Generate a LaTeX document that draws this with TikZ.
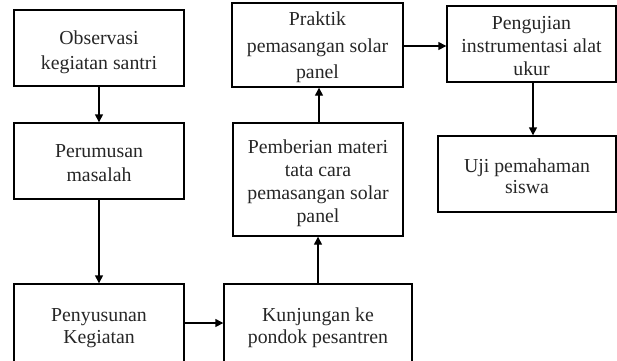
\documentclass[tikz,border=0pt]{standalone}
\usepackage{fontspec}
\setmainfont{Liberation Serif}
\usetikzlibrary{arrows.meta,calc}
\newcommand\tstrut{\rule{0pt}{22pt}}
\newcommand\bstrut{\rule[-5pt]{0pt}{5pt}}
\begin{document}
\begin{tikzpicture}[x=1pt,y=-1pt,
  box/.style={draw,line width=1.4pt,align=center,inner sep=0pt,
    font=\fontsize{19.8}{#1}\selectfont,text=black!85},
  box/.default=23,
  arr/.style={line width=1.4pt,-{Triangle[length=8pt,width=8pt]}}]
\useasboundingbox (0,0) rectangle (617,360);
\clip (0,0) rectangle (617,360);
\node[box=25,minimum width=170pt,minimum height=76pt] (n1) at (99,48) {\tstrut Observasi\\kegiatan santri\bstrut};
\node[box=24,minimum width=170pt,minimum height=76pt] (n2) at (99,161) {\tstrut Perumusan\\masalah\bstrut};
\node[box=22,minimum width=170pt,minimum height=80pt] (n3) at (99,324) {\tstrut Penyusunan\\Kegiatan\bstrut};
\node[box=22,minimum width=188pt,minimum height=80pt] (n4) at (318,324) {\tstrut Kunjungan ke\\pondok pesantren\bstrut};
\node[box,minimum width=170pt,minimum height=113pt] (n5) at (318,179.5) {\tstrut Pemberian materi\\tata cara\\pemasangan solar\\panel\bstrut};
\node[box=26.5,minimum width=171pt,minimum height=84pt] (n6) at (317.5,45) {\rule{0pt}{19pt}Praktik\\pemasangan solar\\panel\bstrut};
\node[box,minimum width=169pt,minimum height=76pt] (n7) at (531.5,44) {\tstrut Pengujian\\instrumentasi alat\\ukur\bstrut};
\node[box=21,minimum width=178pt,minimum height=76pt] (n8) at (527,174) {\tstrut Uji pemahaman\\siswa\bstrut};
\draw[arr] (n1) -- (n2);
\draw[arr] (n2) -- (n3);
\draw[arr] ($(n3.east)+(0,-1)$) -- ($(n3.east -| n4.west)+(0,-1)$);
\draw[arr] (n4) -- (n5);
\draw[arr] ($(n5.north)+(1,0)$) -- ($(n6.south)+(1.5,0)$);
\draw[arr] ($(n6.east)+(0,1)$) -- ($(n6.east -| n7.west)+(0,1)$);
\draw[arr] ($(n7.south)+(1.5,0)$) -- ($(n7.south |- n8.north)+(1.5,0)$);
\end{tikzpicture}
\end{document}
